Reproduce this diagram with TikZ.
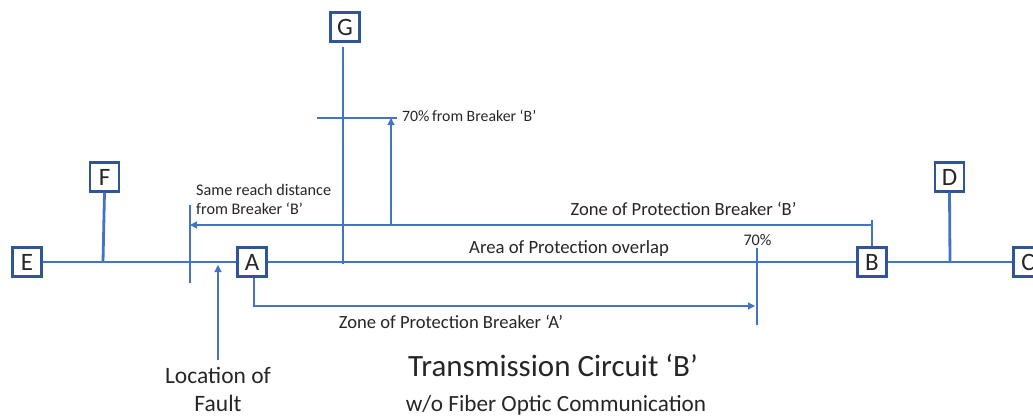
\documentclass[tikz,border=0pt]{standalone}
\usepackage{fontspec}
\setmainfont{Carlito}
\usetikzlibrary{arrows.meta}
\definecolor{boxblue}{HTML}{2F5597}
\definecolor{linblue}{HTML}{4472C4}
\definecolor{txt}{HTML}{262626}
\tikzset{
  busbox/.style={draw=boxblue, line width=2.2pt, fill=white, minimum size=29pt, inner sep=0pt, font=\fontsize{25}{25}\selectfont, text=txt},
  busline/.style={draw=linblue, line width=2.8pt},
  thinline/.style={draw=linblue, line width=1.1pt},
  tip/.style={-{Triangle[length=7pt,width=7pt]}},
  lbl/.style={text=txt, inner sep=0pt},
}
\begin{document}
\begin{tikzpicture}[x=1pt,y=-1pt]
\useasboundingbox (0,0) rectangle (1033,420);
% junction coordinates
\coordinate (jF) at (103,262);
\coordinate (jG) at (343,264);
\coordinate (jD) at (950,262);
\coordinate (gTop) at (343,47);
% buses
\node[busbox] (E) at (27,262) {E};
\node[busbox] (F) at (104.5,177) {F};
\node[busbox] (A) at (252,262) {A};
\node[busbox] (G) at (345,27) {G};
\node[busbox] (B) at (872,262) {B};
\node[busbox] (D) at (949.5,177) {D};
\node[busbox] (C) at (1028,262) {C};
% main lines
\draw[busline] (E.east) -- (A.west);
\draw[busline] (A.east) -- (B.west);
\draw[busline] (B.east) -- (C.west);
\draw[busline] (F.south) -- (jF);
\draw[busline] (gTop) -- (jG);
\draw[busline] (D.south) -- (jD);
% zone of protection B
\coordinate (zbTop) at (872,220);
\coordinate (zbR) at (872,225);
\coordinate (zbL) at (190,225);
\coordinate (reachT) at (190,205);
\coordinate (reachB) at (190,283);
\draw[thinline] (B.north) -- (zbTop);
\draw[thinline, tip] (zbR) -- (zbL);
\draw[thinline] (reachT) -- (reachB);
% 70% from breaker B
\coordinate (upB) at (391,225);
\coordinate (upT) at (391,118);
\coordinate (hL) at (317,118);
\coordinate (hR) at (397,118);
\draw[thinline, tip] (upB) -- (upT);
\draw[thinline] (hL) -- (hR);
% 70% marker
\coordinate (p7T) at (757,248);
\coordinate (p7B) at (757,325);
\draw[thinline] (p7T) -- (p7B);
% zone of protection A
\coordinate (zaL) at (254,306);
\coordinate (zaR) at (755,306);
\draw[thinline, tip] ([xshift=2pt]A.south) -- (zaL) -- (zaR);
% fault arrow
\coordinate (fB) at (218,360);
\coordinate (fT) at (218,265);
\draw[thinline, tip] (fB) -- (fT);
% labels
\node[lbl, anchor=west, font=\fontsize{15.8}{19}\selectfont] (l70B) at (402,116) {70\%\,from Breaker ‘B’};
\node[lbl, anchor=west, align=left, font=\fontsize{16.2}{19}\selectfont] (lsame) at (196,199.5) {Same reach distance\\from Breaker ‘B’};
\node[lbl, font=\fontsize{18.6}{20}\selectfont] (lzb) at (683.5,209) {Zone of Protection Breaker ‘B’};
\node[lbl, font=\fontsize{18.7}{20}\selectfont] (larea) at (569,249) {Area of Protection overlap};
\node[lbl, font=\fontsize{16.2}{18}\selectfont] (l70) at (757.5,240) {70\%};
\node[lbl, font=\fontsize{18.6}{20}\selectfont] (lza) at (451,322) {Zone of Protection Breaker ‘A’};
\node[lbl, align=center, font=\fontsize{23.5}{28}\selectfont] (lloc) at (218,389) {Location of\\Fault};
\node[lbl, font=\fontsize{31}{32}\selectfont] (ltitle) at (553,365) {Transmission Circuit ‘B’};
\node[lbl, font=\fontsize{23.2}{25}\selectfont] (lsub) at (556,405) {w/o Fiber Optic Communication};
\end{tikzpicture}
\end{document}
